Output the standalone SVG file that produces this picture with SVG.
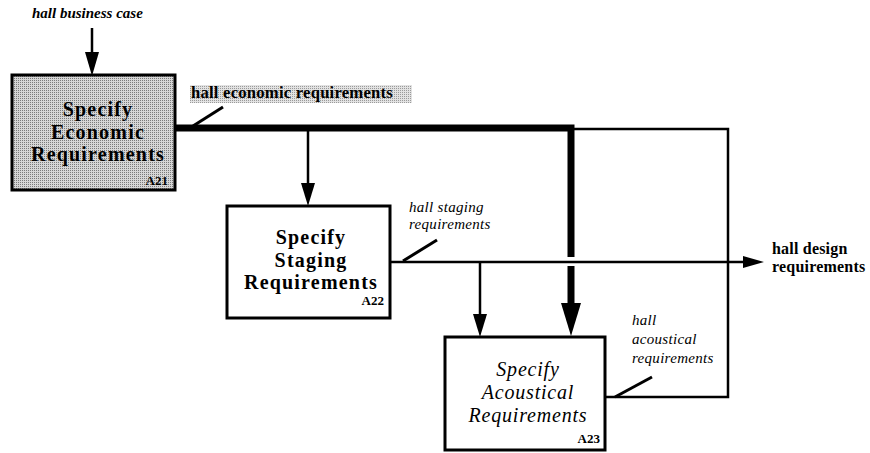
<svg xmlns="http://www.w3.org/2000/svg" width="870" height="453" viewBox="0 0 870 453">
  <defs>
    <pattern id="stipple" width="2" height="2" patternUnits="userSpaceOnUse">
      <rect width="2" height="2" fill="#d6d6d6"/>
      <rect width="1" height="1" fill="#7a7a7a"/>
    </pattern>
    <pattern id="stippleLight" width="2" height="2" patternUnits="userSpaceOnUse">
      <rect width="2" height="2" fill="#e2e2e2"/>
      <rect width="1" height="1" fill="#9a9a9a"/>
    </pattern>
  </defs>
  <style>
    .box { fill: #fff; stroke: #000; stroke-width: 3; }
    .title { font-family: "Liberation Serif", "Times New Roman", serif; font-size: 20px; font-weight: bold; letter-spacing: 1.2px; text-anchor: middle; fill: #000; }
    .title-it { font-family: "Liberation Serif", "Times New Roman", serif; font-size: 20px; font-style: italic; letter-spacing: 0.8px; text-anchor: middle; fill: #000; }
    .num { font-family: "Liberation Serif", "Times New Roman", serif; font-size: 13px; font-weight: bold; text-anchor: end; fill: #000; }
    .lbl-it { font-family: "Liberation Serif", "Times New Roman", serif; font-size: 15px; font-style: italic; letter-spacing: 0.3px; fill: #000; }
    .lbl-bi { font-family: "Liberation Serif", "Times New Roman", serif; font-size: 15px; font-style: italic; font-weight: bold; fill: #000; }
    .lbl-b { font-family: "Liberation Serif", "Times New Roman", serif; font-size: 16px; font-weight: bold; letter-spacing: 0.2px; fill: #000; }
    .line { fill: none; stroke: #000; stroke-width: 2.5; }
    .thick { fill: none; stroke: #000; stroke-width: 7; }
    .leader { stroke: #000; stroke-width: 3; }
    .head { fill: #000; }
  </style>

  <!-- connectors -->
  <g id="connectors">
    <!-- hall business case input -->
    <line class="line" x1="92" y1="28" x2="92" y2="54"/>
    <polygon class="head" points="85,52 99,52 92,76"/>

    <!-- hall economic requirements (thick bundle) -->
    <polyline class="thick" points="176,128 571,128 571,257"/>
    <line class="thick" x1="571" y1="266" x2="571" y2="305"/>
    <polygon class="head" points="561,303 581,303 571,336"/>
    <line class="line" x1="308" y1="131" x2="308" y2="185"/>
    <polygon class="head" points="301,183 315,183 308,206"/>

    <!-- hall staging requirements -->
    <line class="line" x1="390" y1="262" x2="745" y2="262"/>
    <polygon class="head" points="743,256 743,268 764,262"/>
    <line class="line" x1="480" y1="262" x2="480" y2="316"/>
    <polygon class="head" points="473,314 487,314 480,337"/>

    <!-- hall acoustical requirements loop -->
    <polyline class="line" points="605,397 728,397 728,129 574,129"/>

    <!-- label leaders -->
    <line class="leader" x1="223" y1="107" x2="193" y2="126"/>
    <line class="leader" x1="437" y1="240" x2="403" y2="261"/>
    <line class="leader" x1="652" y1="377" x2="615" y2="397"/>
  </g>

  <!-- A21 -->
  <g id="a21">
    <rect x="12" y="75" width="163" height="115" fill="url(#stipple)" stroke="#000" stroke-width="3"/>
    <text class="title" x="98" y="116">Specify</text>
    <text class="title" x="98" y="138.5">Economic</text>
    <text class="title" x="98" y="161">Requirements</text>
    <text class="num" x="168" y="185">A21</text>
  </g>

  <!-- A22 -->
  <g id="a22">
    <rect class="box" x="227" y="206" width="163" height="112"/>
    <text class="title" x="311" y="244">Specify</text>
    <text class="title" x="311" y="266.5">Staging</text>
    <text class="title" x="311" y="289">Requirements</text>
    <text class="num" x="384" y="305">A22</text>
  </g>

  <!-- A23 -->
  <g id="a23">
    <rect class="box" x="445" y="337" width="160" height="113"/>
    <text class="title-it" x="528" y="376">Specify</text>
    <text class="title-it" x="528" y="399">Acoustical</text>
    <text class="title-it" x="528" y="422">Requirements</text>
    <text class="num" x="600" y="443" font-weight="normal">A23</text>
  </g>

  <!-- arrow labels -->
  <g id="labels">
    <text class="lbl-bi" x="32" y="18">hall business case</text>

    <rect x="190" y="85" width="222" height="18" fill="url(#stippleLight)"/>
    <text class="lbl-b" x="191" y="98" font-size="15" textLength="202" lengthAdjust="spacingAndGlyphs">hall economic requirements</text>

    <text class="lbl-it" x="409" y="212">hall staging</text>
    <text class="lbl-it" x="409" y="229">requirements</text>

    <text class="lbl-b" x="772" y="254">hall design</text>
    <text class="lbl-b" x="772" y="272">requirements</text>

    <text class="lbl-it" x="632" y="325">hall</text>
    <text class="lbl-it" x="632" y="344">acoustical</text>
    <text class="lbl-it" x="632" y="363">requirements</text>
  </g>
</svg>
